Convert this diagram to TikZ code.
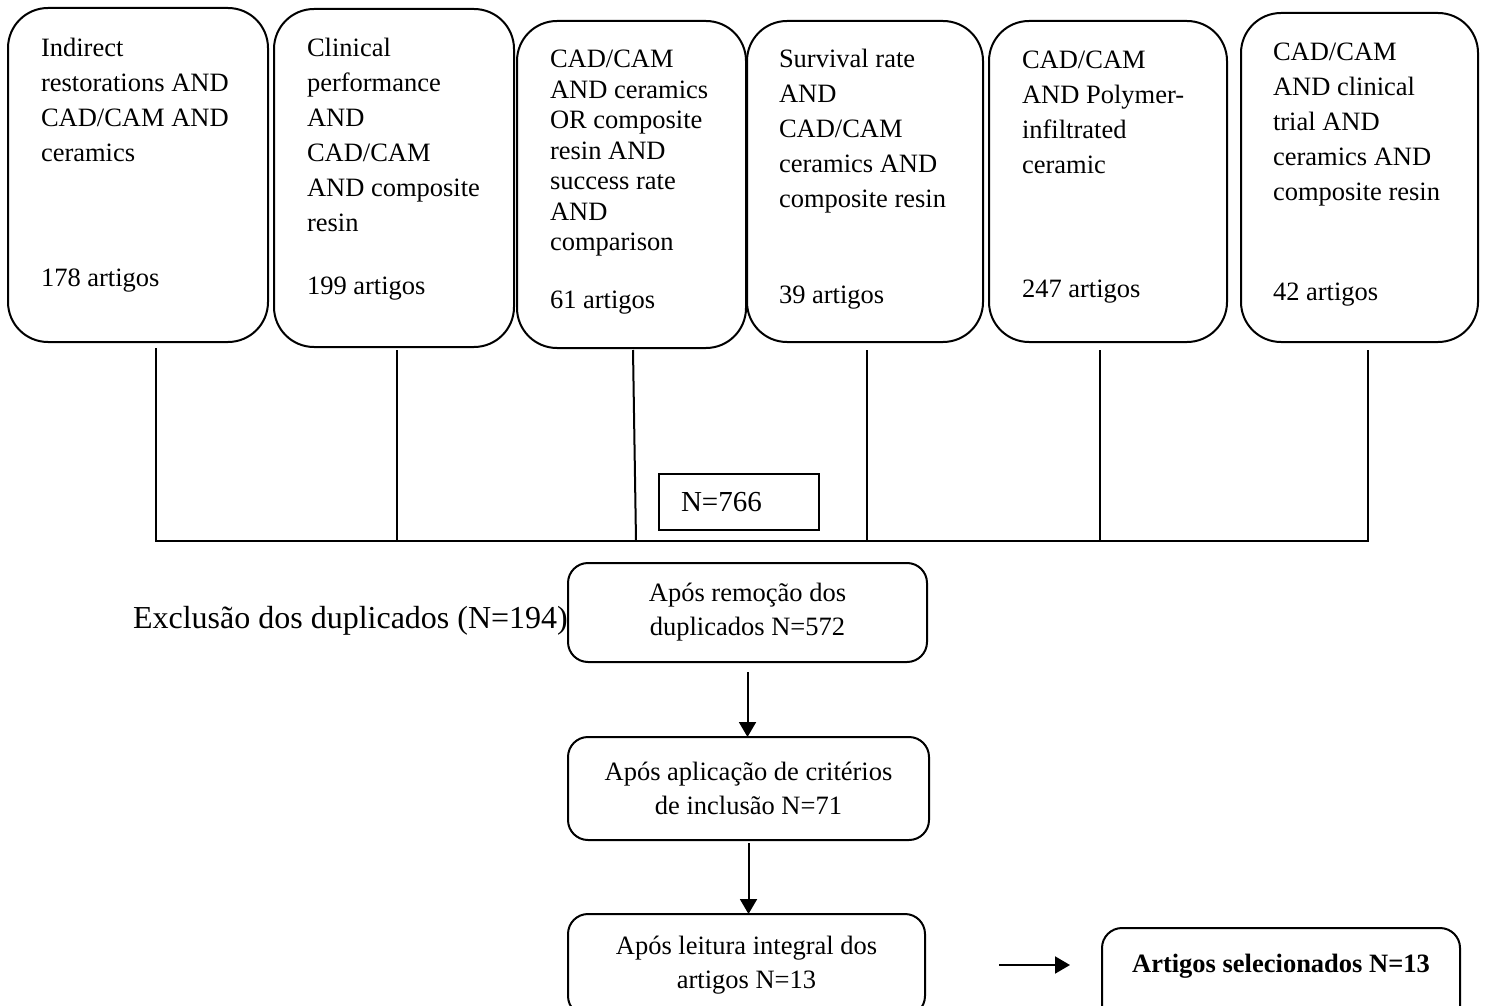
\documentclass[tikz,border=0pt]{standalone}
\usepackage{fontspec}
\setmainfont{Liberation Serif}
\usetikzlibrary{arrows.meta}
\begin{document}
\begin{tikzpicture}[x=0.5pt,y=-0.5pt,
  every node/.style={inner sep=0pt, outer sep=0pt},
  qbox/.style={draw, line width=1pt, rounded corners=20pt, anchor=north west},
  qtext/.style={anchor=base west, align=flush left, text width=112pt, font=\fontsize{13.25pt}{17.5pt}\selectfont},
  ctext/.style={anchor=base west, font=\fontsize{13.25pt}{17.5pt}\selectfont},
  mbox/.style={draw, line width=1pt, rounded corners=10pt, align=center, font=\fontsize{13.25pt}{17pt}\selectfont},
  conn/.style={line width=1pt},
  arr/.style={line width=1pt, -{Triangle[length=7.5pt,width=8.5pt]}}
]
\useasboundingbox (0,0) rectangle (1486,1005);
\fill[white] (0,0) rectangle (1486,1005);
\clip (0,0) rectangle (1486,1005);

% top query boxes
\node[qbox, minimum width=130pt, minimum height=167pt] (b1) at (8,8) {};
\node[qbox, minimum width=120pt, minimum height=169pt] (b2) at (274,9) {};
\node[qbox, minimum width=114.5pt, minimum height=163.5pt] (b3) at (517,21) {};
\node[qbox, minimum width=118pt, minimum height=160.5pt] (b4) at (747,21) {};
\node[qbox, minimum width=119pt, minimum height=160.5pt] (b5) at (989,21) {};
\node[qbox, minimum width=118.5pt, minimum height=164.5pt] (b6) at (1241,13) {};

\node[qtext] (q1) at (41,57) {Indirect\\restorations AND\\CAD/CAM AND\\ceramics};
\node[ctext] (c1) at (41,287) {178 artigos};
\node[qtext] (q2) at (307,57) {Clinical\\performance\\AND\\CAD/CAM\\AND composite\\resin};
\node[ctext] (c2) at (307,295) {199 artigos};
\node[qtext, font=\fontsize{13.25pt}{15.25pt}\selectfont] (q3) at (550,68) {CAD/CAM\\AND ceramics\\OR composite\\resin AND\\success rate\\AND\\comparison};
\node[ctext] (c3) at (550,308) {61 artigos};
\node[qtext] (q4) at (779,68) {Survival rate\\AND\\CAD/CAM\\ceramics AND\\composite resin};
\node[ctext] (c4) at (779,304) {39 artigos};
\node[qtext] (q5) at (1022,69) {CAD/CAM\\AND Polymer-\\infiltrated\\ceramic};
\node[ctext] (c5) at (1022,298) {247 artigos};
\node[qtext] (q6) at (1273,61) {CAD/CAM\\AND clinical\\trial AND\\ceramics AND\\composite resin};
\node[ctext] (c6) at (1273,300) {42 artigos};

% connectors to the bus
\coordinate (t1) at (156,348);  \coordinate (j1) at (156,541);
\coordinate (t2) at (397,350);  \coordinate (j2) at (397,541);
\coordinate (t3) at (633,350);  \coordinate (j3) at (636,541);
\coordinate (t4) at (867,350);  \coordinate (j4) at (867,541);
\coordinate (t5) at (1100,350); \coordinate (j5) at (1100,541);
\coordinate (t6) at (1368,350); \coordinate (j6) at (1368,541);
\coordinate (busL) at (155,541); \coordinate (busR) at (1369,541);
\draw[conn] (t1) -- (j1);
\draw[conn] (t2) -- (j2);
\draw[conn] (t3) -- (j3);
\draw[conn] (t4) -- (j4);
\draw[conn] (t5) -- (j5);
\draw[conn] (t6) -- (j6);
\draw[conn] (busL) -- (busR);

% N=766 box
\node[draw, line width=1pt, anchor=north west, minimum width=80pt, minimum height=28pt,
      inner xsep=11pt, text width=58pt, align=flush left, font=\fontsize{14.5pt}{17pt}\selectfont] (n766) at (659,474) {N=766};

% exclusion text
\node[anchor=base west, font=\fontsize{16pt}{19pt}\selectfont] (excl) at (133,628) {Exclusão dos duplicados (N=194)};

% middle flow
\node[mbox, minimum width=179.5pt, minimum height=49.5pt] (m1) at (747.5,612.5) {Após remoção dos\\duplicados N=572};
\node[mbox, minimum width=180.5pt, minimum height=51.5pt] (m2) at (748.5,788.5) {Após aplicação de critérios\\de inclusão N=71};
\node[mbox, minimum width=178.5pt, minimum height=51pt, anchor=north] (m3) at (746.5,914) {Após leitura integral dos\\artigos N=13};

\draw[arr] ([yshift=-5pt]m1.south) -- (m2.north -| m1.south);
\draw[arr] ([yshift=-1.5pt]m2.south) -- (m3.north -| m2.south);

% final box
\node[draw, line width=1pt, rounded corners=10pt, anchor=north, minimum width=179pt,
      text height=22pt, text depth=29pt, font=\fontsize{13.25pt}{16pt}\selectfont\bfseries] (fin) at (1281,928) {Artigos selecionados N=13};

\coordinate (h1) at (999,965);
\coordinate (h2) at (1070,965);
\draw[arr] (h1) -- (h2);
\end{tikzpicture}
\end{document}
